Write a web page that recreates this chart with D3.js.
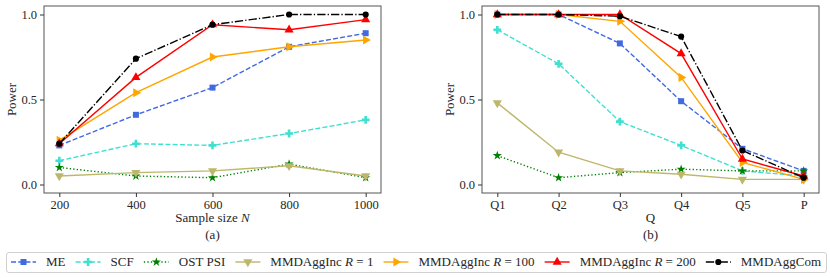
<!DOCTYPE html>
<html>
<head>
<meta charset="utf-8">
<script src="https://cdn.jsdelivr.net/npm/d3@7"></script>
<style>
  body { margin: 0; background: #fff; }
</style>
</head>
<body>
<div id="chart"></div>
<script>
// valeurs
var sampleSizes = [200, 400, 600, 800, 1000];
var qLabels = ["Q1", "Q2", "Q3", "Q4", "Q5", "P"];

var powerN = {
    ME:    [0.23, 0.41, 0.57, 0.81, 0.89],
    SCF:   [0.14, 0.24, 0.23, 0.30, 0.38],
    OST:   [0.10, 0.05, 0.04, 0.12, 0.04],
    R1:    [0.05, 0.07, 0.08, 0.11, 0.05],
    R100:  [0.26, 0.54, 0.75, 0.81, 0.85],
    R200:  [0.24, 0.63, 0.94, 0.91, 0.97],
    Com:   [0.24, 0.74, 0.94, 1.00, 1.00]
};
var powerQ = {
    ME:    [1.00, 1.00, 0.83, 0.49, 0.21, 0.08],
    SCF:   [0.91, 0.71, 0.37, 0.23, 0.08, 0.05],
    OST:   [0.17, 0.04, 0.07, 0.09, 0.08, 0.08],
    R1:    [0.48, 0.19, 0.08, 0.06, 0.03, 0.03],
    R100:  [1.00, 1.00, 0.96, 0.63, 0.13, 0.03],
    R200:  [1.00, 1.00, 1.00, 0.77, 0.15, 0.05],
    Com:   [1.00, 1.00, 0.99, 0.87, 0.20, 0.04]
};
var yTicks = [0.0, 0.5, 1.0];

// style de chaque méthode
var methods = [
    {key: "ME",   label: ["ME"],                 color: "#4169e1", dash: "5,2.2",          symbol: d3.symbolSquare,   size: 36, rot: 0},
    {key: "SCF",  label: ["SCF"],                color: "#40e0d0", dash: "5,2.2",          symbol: d3.symbolCross,    size: 34, rot: 0},
    {key: "OST",  label: ["OST PSI"],            color: "#008000", dash: "1.3,2.2",        symbol: d3.symbolStar,     size: 26, rot: 0},
    {key: "R1",   label: ["MMDAggInc ", "R", " = 1"],   color: "#bdb76b", dash: null,      symbol: d3.symbolTriangle, size: 36, rot: 180},
    {key: "R100", label: ["MMDAggInc ", "R", " = 100"], color: "#ffa500", dash: null,      symbol: d3.symbolTriangle, size: 36, rot: 90},
    {key: "R200", label: ["MMDAggInc ", "R", " = 200"], color: "#ff0000", dash: null,      symbol: d3.symbolTriangle, size: 36, rot: 0},
    {key: "Com",  label: ["MMDAggCom"],          color: "#000000", dash: "8.3,2.1,1.3,2.1", symbol: d3.symbolCircle,  size: 30, rot: 0}
];

var serif = "'Liberation Serif', 'DejaVu Serif', 'Times New Roman', serif";

var totalWidth = 830, totalHeight = 278;
var svg = d3.select("#chart").append("svg")
    .attr("width", totalWidth)
    .attr("height", totalHeight)
    .style("font-family", serif);

var plotTop = 6, plotBottom = 193;
var y = d3.scaleLinear().domain([-0.05, 1.05]).range([plotBottom, plotTop]);

function panel(left, right, x, xs, tickFmt, data, xlabel, title) {
    var g = svg.append("g");

    // lignes et marqueurs
    methods.forEach(function(m) {
        var vals = data[m.key];
        var line = d3.line()
            .x(function(d, i) { return x(xs[i]); })
            .y(function(d) { return y(d); });
        g.append("path")
            .datum(vals)
            .attr("d", line)
            .attr("fill", "none")
            .attr("stroke", m.color)
            .attr("stroke-width", 1.4)
            .attr("stroke-dasharray", m.dash);
        g.selectAll(null)
            .data(vals)
            .enter()
            .append("path")
            .attr("d", d3.symbol().type(m.symbol).size(m.size))
            .attr("fill", m.color)
            .attr("transform", function(d, i) {
                return "translate(" + x(xs[i]) + "," + y(d) + ") rotate(" + m.rot + ")";
            });
    });

    // cadre
    g.append("rect")
        .attr("x", left).attr("y", plotTop)
        .attr("width", right - left).attr("height", plotBottom - plotTop)
        .attr("fill", "none")
        .attr("stroke", "#555")
        .attr("stroke-width", 1);

    // axes
    var ax = g.append("g")
        .attr("transform", "translate(0," + plotBottom + ")")
        .call(d3.axisBottom(x).tickValues(xs).tickFormat(tickFmt).tickSize(4).tickPadding(3));
    var ay = g.append("g")
        .attr("transform", "translate(" + left + ",0)")
        .call(d3.axisLeft(y).tickValues(yTicks).tickFormat(d3.format(".1f")).tickSize(4).tickPadding(3));
    [ax, ay].forEach(function(a) {
        a.attr("font-family", null).attr("font-size", null);
        a.select(".domain").remove();
        a.selectAll(".tick line").attr("stroke", "#333");
        a.selectAll(".tick text")
            .style("font-family", serif)
            .style("font-size", "12.5px")
            .attr("fill", "#262626");
    });

    var cx = (left + right) / 2;
    var xl = g.append("text")
        .attr("x", cx).attr("y", 222)
        .attr("text-anchor", "middle")
        .attr("fill", "#262626")
        .style("font-family", serif)
        .style("font-size", "13px");
    xlabel.forEach(function(s) {
        xl.append("tspan").text(s).style("font-style", s === "N" ? "italic" : null);
    });
    g.append("text")
        .attr("x", cx).attr("y", 239)
        .attr("text-anchor", "middle")
        .attr("fill", "#262626")
        .style("font-family", serif)
        .style("font-size", "13px")
        .text(title);
    g.append("text")
        .attr("transform", "translate(" + (left - 28) + "," + ((plotTop + plotBottom) / 2) + ") rotate(-90)")
        .attr("text-anchor", "middle")
        .attr("fill", "#262626")
        .style("font-family", serif)
        .style("font-size", "13px")
        .text("Power");
}

var xN = d3.scaleLinear().domain([160, 1040]).range([44, 381]);
panel(44, 381, xN, sampleSizes, d3.format("d"), powerN, ["Sample size ", "N"], "(a)");

var idx = qLabels.map(function(d, i) { return i; });
var xQ = d3.scaleLinear().domain([-0.25, 5.25]).range([482, 819]);
panel(482, 819, xQ, idx, function(i) { return qLabels[i]; }, powerQ, ["Q"], "(b)");

// légende
var legX0 = 6, legX1 = 826, legY0 = 252, legY1 = 272;
var leg = svg.append("g");
leg.append("rect")
    .attr("x", legX0 + 0.5).attr("y", legY0 + 0.5)
    .attr("width", legX1 - legX0).attr("height", legY1 - legY0)
    .attr("rx", 2.5)
    .attr("fill", "#fff")
    .attr("stroke", "#d0d0d0")
    .attr("stroke-width", 1);

var handleLen = 25, handleGap = 10, ly = (legY0 + legY1) / 2;
var items = methods.map(function(m) {
    var gi = leg.append("g");
    gi.append("line")
        .attr("x1", 0).attr("x2", handleLen)
        .attr("y1", ly).attr("y2", ly)
        .attr("stroke", m.color)
        .attr("stroke-width", 1.4)
        .attr("stroke-dasharray", m.dash);
    gi.append("path")
        .attr("d", d3.symbol().type(m.symbol).size(m.size))
        .attr("fill", m.color)
        .attr("transform", "translate(" + (handleLen / 2) + "," + ly + ") rotate(" + m.rot + ")");
    var t = gi.append("text")
        .attr("x", handleLen + handleGap)
        .attr("y", ly + 4)
        .attr("fill", "#262626")
        .style("font-family", serif)
        .style("font-size", "13px");
    m.label.forEach(function(s) {
        t.append("tspan").text(s).style("font-style", s === "R" ? "italic" : null);
    });
    return {g: gi, w: handleLen + handleGap + t.node().getComputedTextLength()};
});
var inner = 5, sumW = d3.sum(items, function(d) { return d.w; });
var gap = (legX1 - legX0 - 2 * inner - sumW) / (items.length - 1);
var cursor = legX0 + inner;
items.forEach(function(it) {
    it.g.attr("transform", "translate(" + cursor + ",0)");
    cursor += it.w + gap;
});
</script>
</body>
</html>
